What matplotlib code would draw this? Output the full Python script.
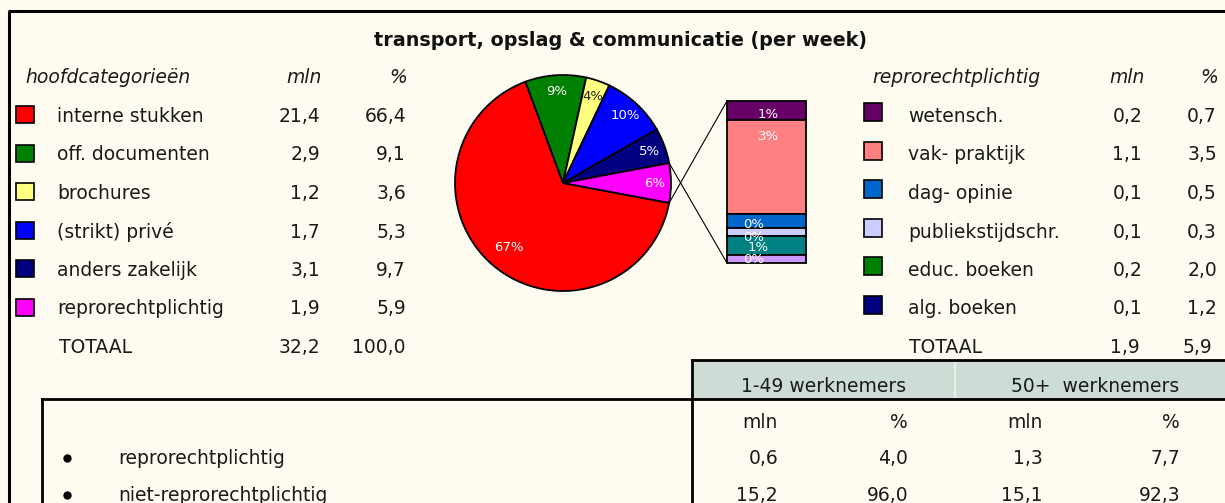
import matplotlib.pyplot as plt
import matplotlib.patches as mpatches
from matplotlib.patches import ConnectionPatch
import numpy as np

# ---- data ----
main_labels = ['interne stukken', 'off. documenten', 'brochures', '(strikt) privé',
               'anders zakelijk', 'reprorechtplichtig']
main_mln = [21.4, 2.9, 1.2, 1.7, 3.1, 1.9]
main_pct = [66.4, 9.1, 3.6, 5.3, 9.7, 5.9]
main_total = (32.2, 100.0)
main_colors = ['#FF0000', '#008000', '#FFFF80', '#0000FF', '#000080', '#FF00FF']

# pie as drawn (privé / anders zakelijk slices as shown in the chart)
pie_vals = [66.4, 9.1, 3.6, 9.7, 5.3, 5.9]
pie_labels = ['67%', '9%', '4%', '10%', '5%', '6%']

repro_labels = ['wetensch.', 'vak- praktijk', 'dag- opinie', 'publiekstijdschr.',
                'educ. boeken', 'alg. boeken']
repro_mln = [0.2, 1.1, 0.1, 0.1, 0.2, 0.1]
repro_pct = [0.7, 3.5, 0.5, 0.3, 2.0, 1.2]
repro_total = (1.9, 5.9)
repro_colors = ['#660066', '#FF8080', '#0066CC', '#CCCCFF', '#008000', '#000080']

# stacked bar of the pie-of-pie, top to bottom
bar_vals = [0.7, 3.5, 0.5, 0.3, 0.7, 0.3]
bar_labels = ['1%', '3%', '0%', '0%', '1%', '0%']
bar_colors = ['#660066', '#FF8080', '#0066CC', '#CCCCFF', '#008080', '#CC99FF']

size_groups = ['1-49 werknemers', '50+  werknemers']
split_rows = ['reprorechtplichtig', 'niet-reprorechtplichtig']
small_mln = [0.6, 15.2]
small_pct = [4.0, 96.0]
large_mln = [1.3, 15.1]
large_pct = [7.7, 92.3]

BG = '#FEFCF0'
TXT = '#1a1a1a'
W, H = 1225, 503
FS = 13.5


def fmt(v):
    return f'{v:.1f}'.replace('.', ',')


fig = plt.figure(figsize=(W / 100, H / 100), dpi=100)
fig.patch.set_facecolor(BG)
ax = fig.add_axes([0, 0, 1, 1])
ax.set_xlim(0, W)
ax.set_ylim(H, 0)
ax.axis('off')


def px_axes(x0, y0, x1, y1):
    return fig.add_axes([x0 / W, 1 - y1 / H, (x1 - x0) / W, (y1 - y0) / H])


# outer frame
ax.plot([8, W], [11, 11], color='black', lw=2.2, solid_capstyle='butt')
ax.plot([9, 9], [11, H], color='black', lw=2.2, solid_capstyle='butt')

ax.text(620, 46, 'transport, opslag & communicatie (per week)', ha='center',
        va='baseline', fontsize=13.8, fontweight='bold', color='#111111')

# ---- left legend table ----
row_y = [122 + 38.5 * i for i in range(7)]
ax.text(25, 83, 'hoofdcategorieën', fontsize=FS, style='italic', va='baseline', color=TXT)
ax.text(322, 83, 'mln', fontsize=FS, style='italic', va='baseline', ha='right', color=TXT)
ax.text(407, 83, '%', fontsize=FS, style='italic', va='baseline', ha='right', color=TXT)
for i, lab in enumerate(main_labels):
    y = row_y[i]
    ax.add_patch(mpatches.Rectangle((16, y - 16), 18, 17, facecolor=main_colors[i],
                                    edgecolor='black', lw=1.2))
    ax.text(57, y, lab, fontsize=FS, va='baseline', color=TXT)
    ax.text(320, y, fmt(main_mln[i]), fontsize=FS, va='baseline', ha='right', color=TXT)
    ax.text(406, y, fmt(main_pct[i]), fontsize=FS, va='baseline', ha='right', color=TXT)
ax.text(59, row_y[6], 'TOTAAL', fontsize=FS, va='baseline', color=TXT)
ax.text(320, row_y[6], fmt(main_total[0]), fontsize=FS, va='baseline', ha='right', color=TXT)
ax.text(406, row_y[6], fmt(main_total[1]), fontsize=FS, va='baseline', ha='right', color=TXT)

# ---- right legend table ----
ax.text(872, 83, 'reprorechtplichtig', fontsize=FS, style='italic', va='baseline', color=TXT)
ax.text(1145, 83, 'mln', fontsize=FS, style='italic', va='baseline', ha='right', color=TXT)
ax.text(1218, 83, '%', fontsize=FS, style='italic', va='baseline', ha='right', color=TXT)
for i, lab in enumerate(repro_labels):
    y = row_y[i]
    ax.add_patch(mpatches.Rectangle((864, y - 19), 18, 18, facecolor=repro_colors[i],
                                    edgecolor='black', lw=1.2))
    ax.text(908, y, lab, fontsize=FS, va='baseline', color=TXT)
    ax.text(1142, y, fmt(repro_mln[i]), fontsize=FS, va='baseline', ha='right', color=TXT)
    ax.text(1217, y, fmt(repro_pct[i]), fontsize=FS, va='baseline', ha='right', color=TXT)
ax.text(909, row_y[6], 'TOTAAL', fontsize=FS, va='baseline', color=TXT)
ax.text(1140, row_y[6], fmt(repro_total[0]), fontsize=FS, va='baseline', ha='right', color=TXT)
ax.text(1212, row_y[6], fmt(repro_total[1]), fontsize=FS, va='baseline', ha='right', color=TXT)

# ---- pie ----
pad = 4
pax = px_axes(455 - pad, 75 - pad, 671 + pad, 291 + pad)
start = -pie_vals[-1] / sum(pie_vals) * 180
wedges, _ = pax.pie(pie_vals, colors=main_colors, startangle=start, counterclock=False,
                    wedgeprops=dict(edgecolor='black', linewidth=1.3))
lim = 1 + pad / 108
pax.set_xlim(-lim, lim)
pax.set_ylim(-lim, lim)
pax.set_aspect('equal')
pax.axis('off')
for w, lab, col in zip(wedges, pie_labels, main_colors):
    mid = np.deg2rad((w.theta1 + w.theta2) / 2)
    r = 0.78 if lab == '67%' else 0.85
    tc = '#222222' if col == '#FFFF80' else 'white'
    pax.text(r * np.cos(mid), r * np.sin(mid), lab, ha='center', va='center',
             fontsize=9.5, color=tc)

# ---- bar of pie ----
bax = px_axes(727, 101, 806, 263)
total = sum(bar_vals)
bottoms = np.cumsum([0] + bar_vals[::-1][:-1])[::-1]
tops = [b + v for b, v in zip(bottoms, bar_vals)]
bars = bax.bar([0] * len(bar_vals), bar_vals, bottom=bottoms, width=1, color=bar_colors,
               edgecolor='black', linewidth=1.3)
for b in bars:
    b.set_clip_on(False)
bax.set_xlim(-0.5, 0.5)
bax.set_ylim(0, total)
bax.axis('off')
# label offsets in points from the top of each segment (Excel's odd placement)
lbl_off = [(1.5, -10), (1.5, -12), (-9, -7), (-9, -7), (-6, -8), (-9, -3.5)]
for t, lab, off in zip(tops, bar_labels, lbl_off):
    bax.annotate(lab, (0, t), xytext=off, textcoords='offset points', ha='center',
                 va='center', fontsize=9.5, color='white', annotation_clip=False)

# connector lines from the pink slice to the bar
mag = wedges[-1]
for ang, ybar in [(mag.theta1, total), (mag.theta2, 0)]:
    a = np.deg2rad(ang)
    con = ConnectionPatch(xyA=(np.cos(a), np.sin(a)), coordsA=pax.transData,
                          xyB=(-0.5, ybar), coordsB=bax.transData, color='black', lw=0.8)
    fig.add_artist(con)

# ---- lower table ----
ax.add_patch(mpatches.Rectangle((692, 360), W - 692, 39, facecolor='#CDDDD5',
                                edgecolor='none'))
ax.plot([955, 955], [361, 398], color='#E6EEE8', lw=1.5)
ax.plot([692, W], [360, 360], color='black', lw=2)
ax.plot([42, W], [399, 399], color='black', lw=2)
ax.plot([692, 692], [360, H], color='black', lw=2)
ax.plot([42, 42], [399, H], color='black', lw=2)

ax.text(824, 392, size_groups[0], fontsize=FS, ha='center', va='baseline', color=TXT)
ax.text(1095, 392, size_groups[1], fontsize=FS, ha='center', va='baseline', color=TXT)
col_x = [778, 908, 1043, 1180]
for x, lab in zip(col_x, ['mln', '%', 'mln', '%']):
    ax.text(x, 428, lab, fontsize=FS, ha='right', va='baseline', color=TXT)
low_y = [464, 501]
for i, lab in enumerate(split_rows):
    y = low_y[i]
    ax.plot(67, y - 6, 'o', ms=5, color='black')
    ax.text(118, y, lab, fontsize=FS, va='baseline', color=TXT)
    vals = [small_mln[i], small_pct[i], large_mln[i], large_pct[i]]
    for x, v in zip(col_x, vals):
        ax.text(x, y, fmt(v), fontsize=FS, ha='right', va='baseline', color=TXT)

fig.savefig('out.png', dpi=100, facecolor=BG)
